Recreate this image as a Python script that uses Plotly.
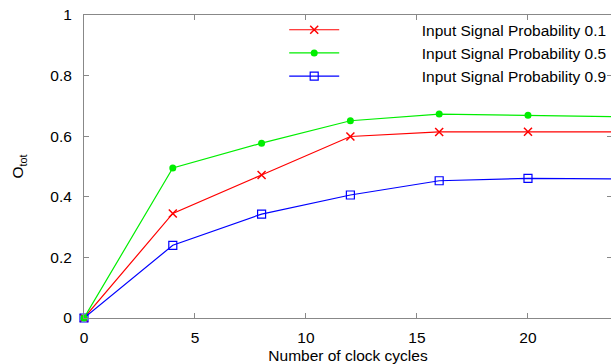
import plotly.graph_objects as go

cycles = [0, 4, 8, 12, 16, 20, 24]
p01 = [0.0, 0.345, 0.472, 0.599, 0.614, 0.615, 0.614]
p05 = [0.0, 0.495, 0.577, 0.651, 0.673, 0.669, 0.664]
p09 = [0.0, 0.240, 0.343, 0.406, 0.453, 0.461, 0.459]

names = ["Input Signal Probability 0.1", "Input Signal Probability 0.5", "Input Signal Probability 0.9"]
FONT = "Liberation Sans, Arial, sans-serif"
pad = "\u00a0" * 18

fig = go.Figure()
fig.add_trace(go.Scatter(x=cycles, y=p01, name=pad + names[0], mode="lines+markers",
                         line=dict(color="#ff0000", width=1.2),
                         marker=dict(symbol="x-thin", size=8, line=dict(color="#ff0000", width=1.5)),
                         legendrank=1, cliponaxis=False))
fig.add_trace(go.Scatter(x=cycles, y=p09, name=pad + names[2], mode="lines+markers",
                         line=dict(color="#0000ff", width=1.2),
                         marker=dict(symbol="square-open", size=8, color="#0000ff", line=dict(width=1.2)),
                         legendrank=3, cliponaxis=False))
fig.add_trace(go.Scatter(x=cycles, y=p05, name=pad + names[1], mode="lines+markers",
                         line=dict(color="#00ee00", width=1.2),
                         marker=dict(symbol="circle", size=7, color="#00ee00"),
                         legendrank=2, cliponaxis=False))

axis_common = dict(showline=True, linecolor="#888888", linewidth=1, mirror="ticks",
                   ticks="inside", ticklen=5, tickcolor="#888888", showgrid=False,
                   zeroline=False, ticklabeloverflow="allow",
                   tickfont=dict(family=FONT, size=15.5, color="#000000"))

# the plot area runs 1px past the window's right edge, so its right border is not seen
fig.update_layout(
    width=612, height=364,
    margin=dict(l=84, r=0, t=15, b=46),
    paper_bgcolor="white", plot_bgcolor="white",
    font=dict(family=FONT, size=15.5, color="#000000"),
    xaxis=dict(range=[0, 23.785], tickvals=[0, 5, 10, 15, 20], **axis_common,
               ticklabelstandoff=5,
               title=dict(text="Number of clock cycles", standoff=8, font=dict(family=FONT, size=15.5))),
    yaxis=dict(range=[0, 1], tickvals=[0, 0.2, 0.4, 0.6, 0.8, 1], ticktext=["0", "0.2", "0.4", "0.6", "0.8", "1"],
               **axis_common, ticklabelstandoff=8,
               title=dict(text="O<sub>tot</sub>", standoff=22, font=dict(family=FONT, size=15.5))),
    legend=dict(x=0.9985, y=1.006, xanchor="right", yanchor="top", bgcolor="rgba(0,0,0,0)",
                itemwidth=50, tracegroupgap=0, font=dict(family=FONT, size=15.5),
                traceorder="normal"),
    showlegend=True,
)

# remove the default page margin and scrollbars so the figure fills the window exactly
fig.write_html(
    "out.html",
    config={"displayModeBar": False},
    post_script=(
        "document.body.style.margin='0';"
        "document.body.style.overflow='hidden';"
        "document.documentElement.style.overflow='hidden';"
    ),
)
